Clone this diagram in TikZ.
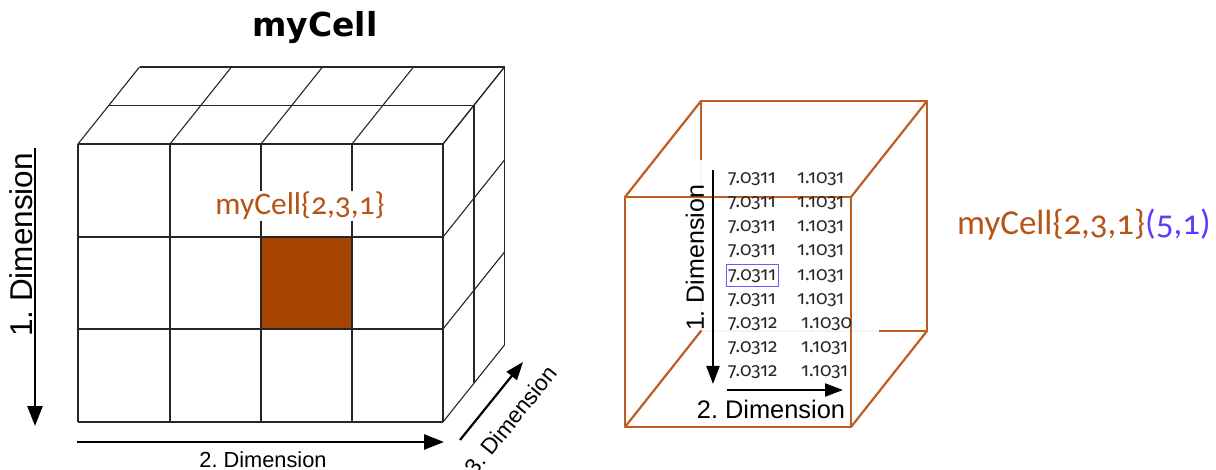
\documentclass[tikz,border=0pt]{standalone}
\usepackage{fontspec}
\setmainfont{Liberation Sans}
\newfontfamily\candfont[Numbers=OldStyle]{Carlito}
\newfontfamily\numfont[Numbers=OldStyle]{Fira Sans}
\newfontfamily\titlefont{DejaVu Sans}
\usetikzlibrary{arrows.meta}
\definecolor{brownText}{RGB}{182,84,24}
\definecolor{cubeLine}{RGB}{190,92,34}
\definecolor{cellFill}{RGB}{165,68,0}
\definecolor{idxBlue}{RGB}{92,60,255}
\definecolor{boxBlue}{RGB}{110,90,255}
\definecolor{numGray}{RGB}{40,40,40}
\tikzset{
  grid/.style={draw=black!85, line width=1.1pt},
  cubeedge/.style={draw=cubeLine, line width=2.2pt, line cap=round, line join=round},
  bigarrow/.style={draw=black, line width=2.6pt, -{Triangle[length=20pt,width=15pt]}},
  midarrow/.style={draw=black, line width=2.2pt, -{Triangle[length=18pt,width=13pt]}},
  dimtext/.style={font=\frenchspacing\fontsize{#1}{#1}\selectfont, inner sep=0pt},
  celltext/.style={font=\candfont\fontsize{#1}{#1}\selectfont, inner sep=0pt},
  numtext/.style={font=\numfont\fontsize{#1}{#1}\selectfont, text=numGray, inner sep=2pt, anchor=west}
}
\begin{document}
\begin{tikzpicture}[x=1pt,y=-1pt]
\useasboundingbox (0,0) rectangle (1216,470);

% ---------- left cube ----------
\fill[cellFill] (261,237) rectangle (352,329);
\foreach \x in {78,170,261,352,443} \draw[grid] (\x,144) -- (\x,422);
\foreach \y in {144,237,329,422} \draw[grid] (78,\y) -- (443,\y);
\foreach \x in {78,170,261,352,443} \draw[grid] (\x,144) -- ++(61.5,-77);
\draw[grid] (109,105.5) -- (474,105.5);
\draw[grid] (139.5,67) -- (504.5,67);
\foreach \y in {144,237,329,422} \draw[grid] (443,\y) -- ++(61.5,-77);
\draw[grid] (474,105.5) -- (474,383.5);
\draw[grid] (504.5,67) -- (504.5,345);

\node[font=\titlefont\bfseries\fontsize{33}{33}\selectfont, anchor=base, inner sep=0pt] (title) at (315,37) {myCell};
\node[celltext=31.5, text=brownText, fill=white, inner sep=1pt, anchor=base] (celllbl) at (300,215) {myCell\{2,3,1\}};

\coordinate (d1s) at (35,148);
\coordinate (d1e) at (35,426);
\draw[bigarrow] (d1s) -- (d1e);
\node[dimtext=31.5, rotate=90] (d1lbl) at (21,245) {1. Dimension};

\coordinate (d2s) at (77,442);
\coordinate (d2e) at (444,442);
\draw[bigarrow] (d2s) -- (d2e);
\node[dimtext=21.8] (d2lbl) at (263,460) {2. Dimension};

\coordinate (d3s) at (460,440);
\coordinate (d3e) at (523,362);
\draw[midarrow] (d3s) -- (d3e);
\node[dimtext=22.5, rotate=51] (d3lbl) at (511,420) {3. Dimension};

% ---------- right cube ----------
\coordinate (F1) at (625,197);
\coordinate (F2) at (851,197);
\coordinate (F3) at (851,427);
\coordinate (F4) at (625,427);
\coordinate (B1) at (701,101);
\coordinate (B2) at (927,101);
\coordinate (B3) at (927,331);
\coordinate (B4) at (701,331);
\draw[cubeedge] (B4) -- (B1) -- (B2) -- (B3) -- cycle;
\fill[white, fill opacity=0.93] (683,160) rectangle (879,418);
\draw[cubeedge] (F1) -- (B1) (F2) -- (B2) (F3) -- (B3) (F4) -- (B4);
\draw[cubeedge] (F1) rectangle (F3);

\foreach \i/\p/\q/\bx in {1/7.0311/1.1031/795, 2/7.0311/1.1031/795, 3/7.0311/1.1031/795, 4/7.0311/1.1031/795, 6/7.0311/1.1031/795, 7/7.0312/1.1030/799, 8/7.0312/1.1031/799, 9/7.0312/1.1031/799}{
  \node[numtext=19] (r\i a) at (726,{179+24.2*(\i-1)}) {\p};
  \node[numtext=19] (r\i b) at (\bx,{179+24.2*(\i-1)}) {\q};
}
\node[numtext=19, draw=boxBlue, line width=0.9pt, minimum height=22pt] (r5a) at (726,{179+24.2*4}) {7.0311};
\node[numtext=19] (r5b) at (795,{179+24.2*4}) {1.1031};

\coordinate (i1s) at (713,170);
\coordinate (i1e) at (713,384);
\draw[midarrow] (i1s) -- (i1e);
\node[dimtext=25, rotate=90] (i1lbl) at (695,258) {1. Dimension};

\coordinate (i2s) at (727,390);
\coordinate (i2e) at (843,390);
\draw[midarrow] (i2s) -- (i2e);
\node[dimtext=25.4] (i2lbl) at (771,409) {2. Dimension};

\node[celltext=35, anchor=base west] (cellidx) at (957,235) {\textcolor{brownText}{myCell\{2,3,1\}}\textcolor{idxBlue}{(5,1)}};
\end{tikzpicture}
\end{document}
